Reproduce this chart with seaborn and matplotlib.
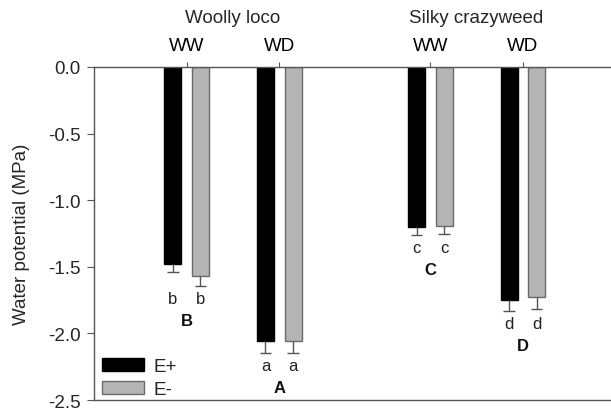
import matplotlib
matplotlib.use("Agg")
import matplotlib.pyplot as plt
from matplotlib.patches import Patch
import matplotlib.transforms as mtransforms
import numpy as np
import pandas as pd
import seaborn as sns

# ---------------- data ----------------
species = ["Woolly loco", "Silky crazyweed"]
water = ["WW", "WD"]
endophyte = ["E+", "E-"]
e_plus_mean = [-1.48, -2.06, -1.20, -1.75]
e_plus_se = [0.057, 0.085, 0.060, 0.083]
e_minus_mean = [-1.57, -2.06, -1.19, -1.73]
e_minus_se = [0.075, 0.088, 0.060, 0.090]
letters_plus = ["b", "a", "c", "d"]
letters_minus = ["b", "a", "c", "d"]
group_letters = ["B", "A", "C", "D"]

# ---------------- layout ----------------
species_gap = 0.63
n_groups = len(species) * len(water)
group_pos = [1 + i + species_gap * (i // len(water)) for i in range(n_groups)]

rows = []
for i in range(n_groups):
    rows.append({"pos": group_pos[i], "endophyte": endophyte[0], "value": e_plus_mean[i]})
    rows.append({"pos": group_pos[i], "endophyte": endophyte[1], "value": e_minus_mean[i]})
df = pd.DataFrame(rows)

sns.set_style("white")
plt.rcParams["font.family"] = ["Liberation Sans", "DejaVu Sans"]
FS = 13.5

fig = plt.figure(figsize=(6.11, 4.10), dpi=100)
ax = fig.add_axes([94 / 611, 1 - 401 / 410, (610 - 94) / 611, (401 - 68) / 410])

black = "#000000"
gray = "#b4b4b4"
gray_edge = "#6a6a6a"
err_color = "#555555"

sns.barplot(data=df, x="pos", y="value", hue="endophyte", hue_order=endophyte,
            palette={endophyte[0]: black, endophyte[1]: gray},
            native_scale=True, width=0.595, gap=0.38, errorbar=None,
            legend=False, saturation=1, ax=ax)

bars = sorted([p for p in ax.patches if p.get_width() > 0], key=lambda p: p.get_x())
ses = []
lows = []
for i in range(n_groups):
    ses += [e_plus_se[i], e_minus_se[i]]
    lows += [letters_plus[i], letters_minus[i]]

cap_half = 0.062
for k, p in enumerate(bars):
    if k % 2 == 0:
        p.set_edgecolor(black)
    else:
        p.set_edgecolor(gray_edge)
    p.set_linewidth(1.0)
    cx = p.get_x() + p.get_width() / 2
    val = p.get_y() + p.get_height()
    se = ses[k]
    ax.vlines(cx, val, val - se, color=err_color, lw=1.0, zorder=3)
    ax.hlines(val - se, cx - cap_half, cx + cap_half, color=err_color, lw=1.0, zorder=3)

# letters
for i in range(n_groups):
    lowest = min(bars[2 * i].get_height() - ses[2 * i],
                 bars[2 * i + 1].get_height() - ses[2 * i + 1])
    ly = lowest - 0.095
    for j in range(2):
        p = bars[2 * i + j]
        cx = p.get_x() + p.get_width() / 2
        ax.text(cx, ly, lows[2 * i + j], ha="center", va="center", fontsize=12, color="#222222")
    ax.text(group_pos[i], ly - 0.165, group_letters[i], ha="center", va="center",
            fontsize=12, fontweight="bold", color="#111111")

# axes styling
ax.set_xlim(0, 5.57)
ax.set_ylim(-2.5, 0)
ax.set_yticks(np.arange(-2.5, 0.01, 0.5))
ax.set_yticklabels([f"{v:.1f}" for v in np.arange(-2.5, 0.01, 0.5)], fontsize=FS)
ax.xaxis.tick_top()
ax.set_xticks(group_pos)
ax.set_xticklabels(water * len(species), fontsize=FS)
ax.tick_params(axis="x", top=True, bottom=False, direction="out", length=3.6, width=0.8,
               pad=5.5, colors="#000000")
ax.tick_params(axis="y", left=True, direction="out", length=5, width=0.8, pad=4.5)
for s in ["left", "top", "bottom"]:
    ax.spines[s].set_visible(True)
    ax.spines[s].set_color("#555555")
    ax.spines[s].set_linewidth(1.0)
ax.spines["right"].set_visible(False)
ax.tick_params(axis="both", color="#555555")
ax.set_xlabel("")
ax.set_ylabel("Water potential (MPa)", fontsize=FS, labelpad=13)

trans = mtransforms.blended_transform_factory(ax.transData, ax.transAxes)
for s_i, name in enumerate(species):
    cx = np.mean(group_pos[s_i * len(water):(s_i + 1) * len(water)])
    ax.text(cx, 1.149, name, transform=trans, ha="center", va="center", fontsize=FS)

handles = [Patch(facecolor=black, edgecolor=black, lw=1.0),
           Patch(facecolor=gray, edgecolor=gray_edge, lw=1.0)]
ax.legend(handles, endophyte, loc="lower left", bbox_to_anchor=(0, -0.018), borderaxespad=0,
          frameon=False, fontsize=FS, handlelength=2.25, handleheight=0.7,
          handletextpad=0.5, labelspacing=0.35)

fig.savefig("out.png", dpi=100)
